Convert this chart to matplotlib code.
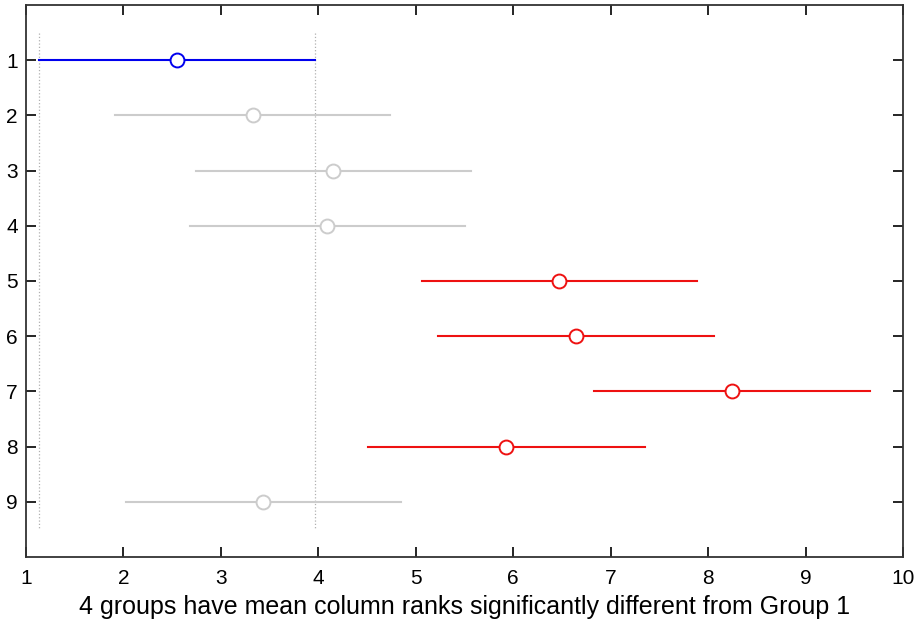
import matplotlib.pyplot as plt
import numpy as np

plt.rcParams['font.family'] = ['Liberation Sans', 'DejaVu Sans']

groups = [1, 2, 3, 4, 5, 6, 7, 8, 9]
means = [2.55, 3.33, 4.15, 4.09, 6.47, 6.64, 8.24, 5.93, 3.43]
lower = [1.13, 1.91, 2.74, 2.68, 5.06, 5.23, 6.83, 4.51, 2.03]
upper = [3.97, 4.74, 5.57, 5.51, 7.89, 8.06, 9.66, 7.35, 4.85]
status = ['ref', 'ns', 'ns', 'ns', 'sig', 'sig', 'sig', 'sig', 'ns']

colours = {'ref': '#0000ee', 'ns': '#cccccc', 'sig': '#ee1111'}

fig = plt.figure(figsize=(9.19, 6.23), dpi=100)
ax = fig.add_axes([0.0283, 0.106, 0.9543, 0.886])

# reference interval bounds
for xv in (lower[0], upper[0]):
    ax.plot([xv, xv], [0.5, 9.5], ls=':', color='#b0b0b0', lw=0.9)

for g, m, lo, hi, s in zip(groups, means, lower, upper, status):
    c = colours[s]
    ax.plot([lo, hi], [g, g], color=c, lw=1.5)
    ax.plot(m, g, 'o', mfc='white', mec=c, ms=10, mew=1.4)

ax.set_xlim(1, 10)
ax.set_ylim(10, 0)
ax.set_xticks(range(1, 11))
ax.set_yticks(groups)
ax.tick_params(direction='in', top=True, right=True, length=7, width=1.2,
               labelsize=15)
ax.tick_params(axis='x', pad=9)
ax.tick_params(axis='y', pad=6)
for sp in ax.spines.values():
    sp.set_linewidth(1.3)
    sp.set_color('#333333')
ax.set_xlabel('4 groups have mean column ranks significantly different from Group 1',
              fontsize=18, labelpad=5)

fig.savefig('out.png', dpi=100)
